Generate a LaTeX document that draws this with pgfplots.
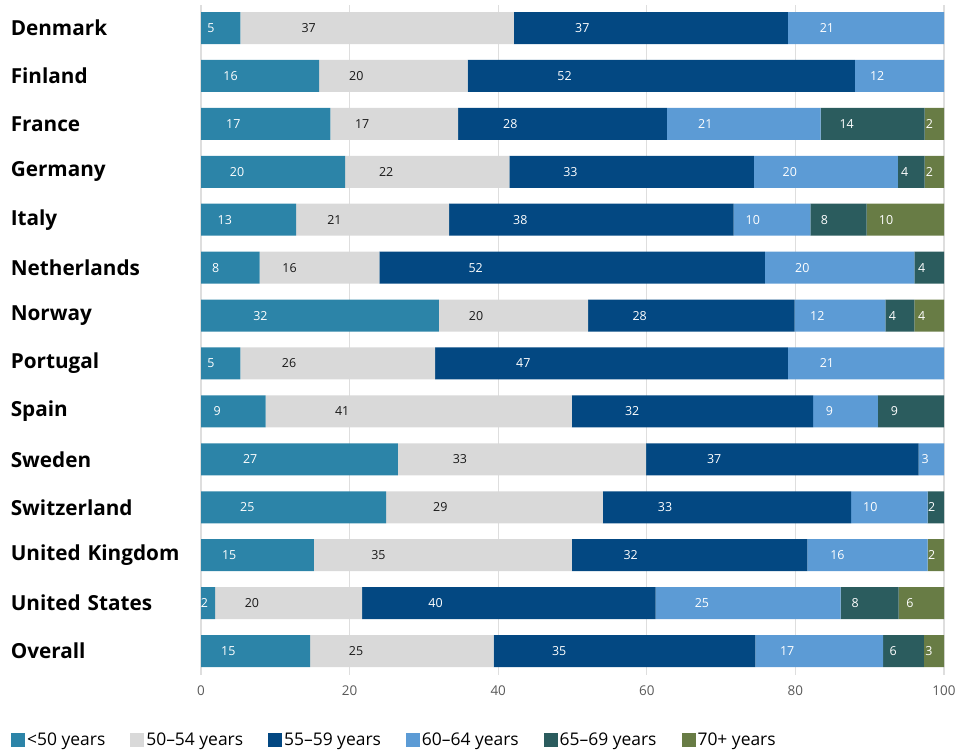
\documentclass[border=0pt]{standalone}
\usepackage{pgfplots}
\usepackage{pgfplotstable}
\pgfplotsset{compat=1.18}
\usepackage{fontspec}
\setmainfont{Open Sans}
\definecolor{c1}{HTML}{2C84A8}
\definecolor{c2}{HTML}{D9D9D9}
\definecolor{c3}{HTML}{034882}
\definecolor{c4}{HTML}{5C9BD5}
\definecolor{c5}{HTML}{2B5C5E}
\definecolor{c6}{HTML}{687C45}
\definecolor{tickgray}{HTML}{595959}
\pgfplotstableread{
idx v1 l1 v2 l2 v3 l3 v4 l4 v5 l5 v6 l6
0 5.3 5 36.8 37 36.9 37 21.0 21 0 0 0 0
1 15.9 16 20.0 20 52.1 52 12.0 12 0 0 0 0
2 17.4 17 17.2 17 28.1 28 20.7 21 14.0 14 2.6 2
3 19.4 20 22.1 22 32.9 33 19.4 20 3.6 4 2.6 2
4 12.8 13 20.6 21 38.3 38 10.3 10 7.6 8 10.4 10
5 7.9 8 16.1 16 51.9 52 20.1 20 4.0 4 0 0
6 32.0 32 20.1 20 27.8 28 12.2 12 3.9 4 4.0 4
7 5.3 5 26.2 26 47.5 47 21.0 21 0 0 0 0
8 8.7 9 41.2 41 32.5 32 8.7 9 8.9 9 0 0
9 26.5 27 33.4 33 36.7 37 3.4 3 0 0 0 0
10 24.9 25 29.2 29 33.4 33 10.3 10 2.2 2 0 0
11 15.2 15 34.7 35 31.7 32 16.2 16 0 0 2.2 2
12 1.9 2 19.8 20 39.5 40 24.9 25 7.8 8 6.1 6
13 14.7 15 24.7 25 35.2 35 17.2 17 5.5 6 2.7 3
}\data
\begin{document}
\begin{tikzpicture}
\useasboundingbox (0,0) rectangle (971bp,750bp);
\begin{axis}[
  at={(201bp,75bp)}, anchor=south west,
  width=743bp, height=670bp, scale only axis,
  xbar stacked, bar width=32bp,
  xmin=0, xmax=100, ymin=-0.48, ymax=13.5, y dir=reverse,
  axis line style={draw=none},
  major tick length=0pt,
  xmajorgrids, ymajorgrids=false,
  grid style={color=black!13, line width=1.3bp},
  xtick={0,20,40,60,80,100},
  ytick={0,...,13},
  yticklabels={Denmark,Finland,France,Germany,Italy,Netherlands,Norway,Portugal,Spain,Sweden,Switzerland,United Kingdom,United States,Overall},
  yticklabel style={font=\fontsize{20.8}{24}\selectfont\bfseries, text width=190bp, align=left, anchor=east, inner sep=0pt},
  xticklabel style={font=\fontsize{13.5}{16}\selectfont, text=tickgray, yshift=-7bp},
  /pgf/number format/assume math mode=true,
  point meta=explicit symbolic,
  visualization depends on={rawx \as \segw},
  nodes near coords={\ifnum\pgfplotspointmeta>0 \pgfplotspointmeta\fi},
  nodes near coords style={font=\fontsize{12.5}{15}\selectfont, text=white, anchor=center, xshift={-1.8575bp*\segw}},
  legend columns=6,
  legend style={at={(-0.2557,-0.097)}, anchor=west, draw=none, inner sep=0pt,
    font=\fontsize{17.5}{20}\selectfont,
    /tikz/every even column/.append style={column sep=23bp}},
  legend image code/.code={\path[#1] (0bp,-7bp) rectangle (14bp,7bp);},
]
\addplot[fill=c1, draw=none] table[x=v1, y=idx, meta=l1] {\data};
\addplot[fill=c2, draw=none, nodes near coords style={text=black!90}] table[x=v2, y=idx, meta=l2] {\data};
\addplot[fill=c3, draw=none] table[x=v3, y=idx, meta=l3] {\data};
\addplot[fill=c4, draw=none] table[x=v4, y=idx, meta=l4] {\data};
\addplot[fill=c5, draw=none] table[x=v5, y=idx, meta=l5] {\data};
\addplot[fill=c6, draw=none] table[x=v6, y=idx, meta=l6] {\data};
\legend{<50 years, 50--54 years, 55--59 years, 60--64 years, 65--69 years, 70+ years}
\end{axis}
\end{tikzpicture}
\end{document}
